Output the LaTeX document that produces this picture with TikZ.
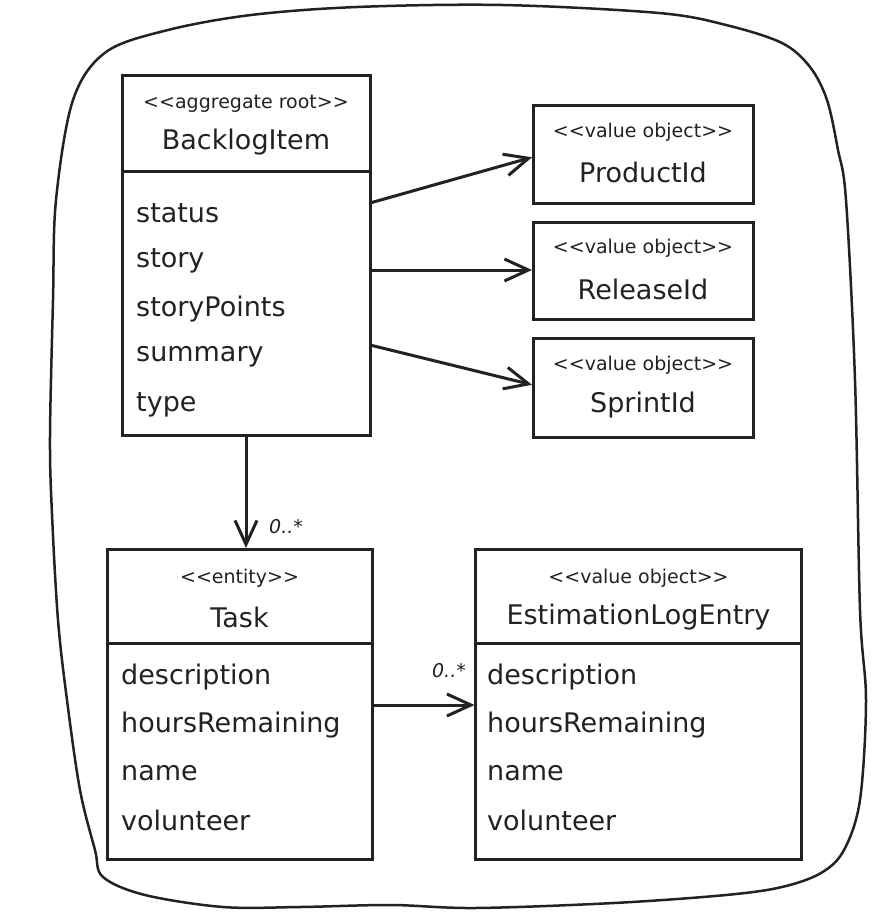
\documentclass[tikz,border=0pt]{standalone}
\usepackage{fontspec}
\setmainfont{DejaVu Sans}
\newfontfamily\stfont{DejaVu Sans}
\usetikzlibrary{arrows.meta}
\definecolor{ink}{HTML}{222222}
\tikzset{
  umlbox/.style={draw=ink, line width=3pt, inner sep=0pt, outer sep=0pt},
  divider/.style={draw=ink, line width=3pt},
  stereo/.style={font=\stfont\fontsize{19}{22}\selectfont, text=ink, inner sep=0pt},
  title/.style={font=\fontsize{27}{30}\selectfont, text=ink, inner sep=0pt},
  attr/.style={font=\fontsize{27}{30}\selectfont, text=ink, inner sep=0pt, anchor=west},
  mult/.style={font=\itshape\fontsize{19}{22}\selectfont, text=ink, inner sep=0pt},
  arr/.style={draw=ink, line width=3pt, -{Straight Barb[length=24pt,width=22pt,line width=3pt]}, shorten >=1pt},
  blob/.style={draw=ink, line width=2.5pt}
}
\begin{document}
\begin{tikzpicture}[x=1pt,y=-1pt]
\useasboundingbox (0,0) rectangle (872,914);
\fill[white] (0,0) rectangle (872,914);

% outer boundary
\draw[blob] plot[smooth cycle, tension=0.55] coordinates {
(106,52) (168,30) (251,15) (357,7) (503,5) (659,13) (726,25) (782,43) (810,67) (827,100) (838,150) (846,200) (855,380) (860,610) (866,700) (860,800) (844,850) (821,873) (782,887) (726,895) (614,903) (475,908) (391,905) (300,907) (223,907) (145,895) (103,877) (95,850) (80,790) (67,700) (58,620) (52,514) (50,437) (53,300) (56,200) (73,100)};

% BacklogItem
\node[umlbox, minimum width=248pt, minimum height=360pt] (bi) at (246,255) {};
\draw[divider] (bi.west |- 0,171) -- (bi.east |- 0,171);
\node[stereo] (bis) at (246,104) {<<aggregate root>>};
\node[title] (bit) at (246,142) {BacklogItem};
\node[attr] (bia1) at (136,213) {status};
\node[attr] (bia2) at (136,261) {story};
\node[attr] (bia3) at (136,309) {storyPoints};
\node[attr] (bia4) at (136,357) {summary};
\node[attr] (bia5) at (136,405) {type};

% value objects
\node[umlbox, minimum width=220pt, minimum height=98pt] (pid) at (643,154) {};
\node[stereo] (pids) at (643,132) {<<value object>>};
\node[title] (pidt) at (643,172) {ProductId};

\node[umlbox, minimum width=220pt, minimum height=97pt] (rid) at (643,270.5) {};
\node[stereo] (rids) at (643,248) {<<value object>>};
\node[title] (ridt) at (643,289) {ReleaseId};

\node[umlbox, minimum width=220pt, minimum height=99pt] (sid) at (643,387.5) {};
\node[stereo] (sids) at (643,365) {<<value object>>};
\node[title] (sidt) at (643,405) {SprintId};

% Task
\node[umlbox, minimum width=265pt, minimum height=310pt] (task) at (239.5,704) {};
\draw[divider] (task.west |- 0,643) -- (task.east |- 0,643);
\node[stereo] (tasks) at (239.5,578) {<<entity>>};
\node[title] (taskt) at (239.5,617) {Task};
\node[attr] (ta1) at (121,677) {description};
\node[attr] (ta2) at (121,725) {hoursRemaining};
\node[attr] (ta3) at (121,773) {name};
\node[attr] (ta4) at (121,820) {volunteer};

% EstimationLogEntry
\node[umlbox, minimum width=326pt, minimum height=310pt] (ele) at (638.5,704) {};
\draw[divider] (ele.west |- 0,643) -- (ele.east |- 0,643);
\node[stereo] (eles) at (638.5,578) {<<value object>>};
\node[title] (elet) at (638.5,617) {EstimationLogEntry};
\node[attr] (ea1) at (487,677) {description};
\node[attr] (ea2) at (487,725) {hoursRemaining};
\node[attr] (ea3) at (487,773) {name};
\node[attr] (ea4) at (487,820) {volunteer};

% connectors
\draw[arr] (bi.east |- 0,203) -- (pid.west |- 0,157);
\draw[arr] (bi.east |- 0,270) -- (rid.west |- 0,270);
\draw[arr] (bi.east |- 0,345) -- (sid.west |- 0,385);
\draw[arr] (bi.south) -- (bi.south |- task.north);
\draw[arr] (task.east |- 0,705) -- (ele.west |- 0,705);

\node[mult, anchor=west] (m1) at (269,527) {0..*};
\node[mult, anchor=east] (m2) at (466,671) {0..*};
\end{tikzpicture}
\end{document}
